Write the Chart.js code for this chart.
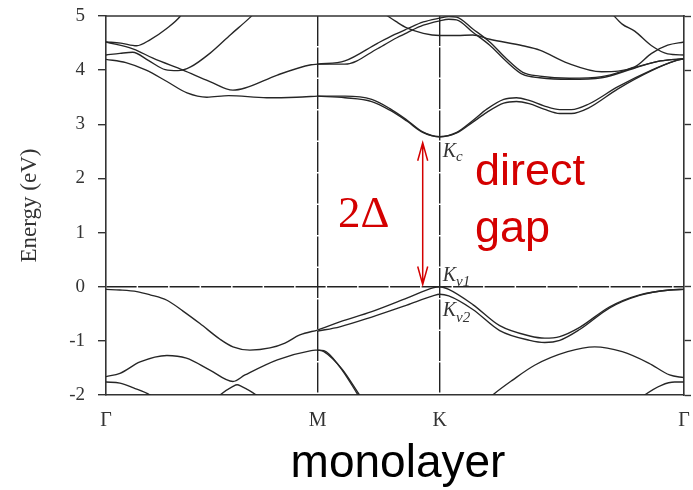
<!DOCTYPE html>
<html>
<head>
<meta charset="utf-8">
<script src="https://cdn.jsdelivr.net/npm/chart.js@4/dist/chart.umd.min.js"></script>
<style>
  html, body { margin: 0; padding: 0; background: #fff; }
  #wrap { width: 693px; height: 490px; }
</style>
</head>
<body>
<div id="wrap"><canvas id="bands" width="693" height="490"></canvas></div>
<script>
// High-symmetry points along the path Γ–M–K–Γ (length of ΓM = 1)
const kTicks = [0, 1, 1.5774, 2.7321];
const kLabels = ['Γ', 'M', 'K', 'Γ'];
const energyTicks = [-2, -1, 0, 1, 2, 3, 4, 5];

// Band energies, [k, E (eV)]
// conduction bands
const cbLowGM  = [[0,4.20],[0.094,4.14],[0.19,4.00],[0.288,3.79],[0.383,3.58],[0.477,3.50],[0.58,3.53],[0.76,3.49],[0.9,3.50],[1,3.52]];
const cbLowMGa = [[1,3.52],[1.13,3.52],[1.256,3.46],[1.342,3.29],[1.422,3.08],[1.497,2.86],[1.577,2.77],[1.658,2.85],[1.734,3.07],[1.80,3.28],[1.88,3.46],[1.94,3.49],[2.00,3.44],[2.07,3.34],[2.145,3.27],[2.20,3.27],[2.28,3.37],[2.418,3.69],[2.579,4.00],[2.69,4.17],[2.732,4.21]];
const cbLowMGb = [[1,3.52],[1.13,3.49],[1.256,3.42],[1.342,3.26],[1.422,3.06],[1.497,2.85],[1.577,2.77],[1.658,2.84],[1.734,3.04],[1.80,3.22],[1.88,3.39],[1.94,3.42],[2.00,3.38],[2.07,3.28],[2.145,3.20],[2.20,3.20],[2.28,3.30],[2.418,3.65],[2.579,3.99],[2.69,4.17],[2.732,4.21]];
const cbMidGM  = [[0,4.52],[0.13,4.39],[0.222,4.22],[0.364,4.00],[0.491,3.79],[0.600,3.63],[0.657,3.67],[0.81,3.91],[0.97,4.10],[1,4.11]];
const cbMidMGa = [[1,4.11],[1.129,4.17],[1.285,4.50],[1.365,4.66],[1.422,4.76],[1.50,4.89],[1.577,4.96],[1.62,4.99],[1.657,4.98],[1.734,4.76],[1.814,4.52],[1.893,4.21],[1.970,3.96],[2.05,3.89],[2.19,3.85],[2.343,3.88],[2.50,4.05],[2.62,4.17],[2.732,4.21]];
const cbMidMGb = [[1,4.11],[1.129,4.11],[1.285,4.40],[1.365,4.58],[1.422,4.69],[1.50,4.83],[1.577,4.91],[1.62,4.94],[1.657,4.93],[1.734,4.70],[1.814,4.46],[1.893,4.16],[1.970,3.92],[2.05,3.86],[2.19,3.83],[2.343,3.86],[2.50,4.04],[2.62,4.17],[2.732,4.21]];
const cbUpKG   = [[1.32,5.03],[1.37,4.90],[1.422,4.78],[1.50,4.68],[1.577,4.64],[1.658,4.64],[1.734,4.65],[1.814,4.57],[1.97,4.45],[2.05,4.37],[2.182,4.13],[2.343,3.97],[2.499,4.06],[2.579,4.31],[2.655,4.46],[2.732,4.52]];
const cbTopKG  = [[2.39,5.05],[2.44,4.85],[2.499,4.72],[2.579,4.45],[2.655,4.30],[2.732,4.28]];
const cbSteepA = [[0,4.28],[0.066,4.31],[0.126,4.33],[0.20,4.18],[0.28,4.01],[0.34,3.99],[0.40,4.06],[0.491,4.31],[0.59,4.66],[0.68,4.97],[0.70,5.05]];
const cbSteepB = [[0,4.52],[0.07,4.50],[0.145,4.45],[0.208,4.56],[0.287,4.77],[0.35,4.99],[0.36,5.05]];

// valence bands
const vbTopGM  = [[0,-0.05],[0.066,-0.06],[0.146,-0.09],[0.208,-0.15],[0.288,-0.25],[0.364,-0.45],[0.444,-0.68],[0.539,-0.97],[0.600,-1.11],[0.680,-1.17],[0.775,-1.13],[0.846,-1.04],[0.916,-0.89],[1,-0.80]];
const vbTopMGa = [[1,-0.80],[1.105,-0.65],[1.256,-0.46],[1.422,-0.21],[1.545,-0.02],[1.577,0],[1.62,-0.05],[1.734,-0.33],[1.861,-0.72],[2.003,-0.91],[2.074,-0.95],[2.145,-0.92],[2.239,-0.75],[2.381,-0.37],[2.522,-0.15],[2.664,-0.06],[2.732,-0.05]];
const vbTopMGb = [[1,-0.82],[1.105,-0.74],[1.256,-0.56],[1.422,-0.34],[1.545,-0.17],[1.577,-0.14],[1.62,-0.17],[1.734,-0.42],[1.861,-0.81],[2.003,-0.99],[2.074,-1.03],[2.145,-0.99],[2.239,-0.79],[2.381,-0.39],[2.522,-0.16],[2.664,-0.06],[2.732,-0.05]];
const vbMidGM  = [[0,-1.66],[0.066,-1.60],[0.161,-1.39],[0.288,-1.27],[0.38,-1.32],[0.491,-1.54],[0.600,-1.75],[0.657,-1.63],[0.81,-1.35],[0.97,-1.18],[1,-1.17]];
const vbMidMKa = [[1,-1.17],[1.03,-1.18],[1.105,-1.48],[1.185,-1.96],[1.21,-2.12]];
const vbMidMKb = [[1,-1.17],[1.03,-1.20],[1.115,-1.52],[1.195,-1.98],[1.22,-2.12]];
const vbLowGL  = [[0,-1.76],[0.066,-1.78],[0.13,-1.87],[0.208,-2.0],[0.26,-2.15]];
const vbHump   = [[0.50,-2.15],[0.539,-2.0],[0.60,-1.84],[0.62,-1.81],[0.64,-1.84],[0.71,-2.0],[0.75,-2.15]];
const vbArchKG = [[1.80,-2.10],[1.828,-2.0],[1.92,-1.73],[2.026,-1.45],[2.182,-1.20],[2.31,-1.11],[2.44,-1.20],[2.565,-1.41],[2.664,-1.63],[2.732,-1.68]];
const vbLowGR  = [[2.50,-2.15],[2.546,-2.0],[2.625,-1.82],[2.688,-1.76],[2.732,-1.76]];

// band edges at K and the gap arrow between them
const edgeKc = 2.77, edgeKv1 = 0, edgeKv2 = -0.14;
const gapArrow = { k: 1.497, top: 2.66, bottom: 0.04 };

const allBands = [
  cbLowGM, cbLowMGa, cbLowMGb, cbMidGM, cbMidMGa, cbMidMGb, cbUpKG, cbTopKG, cbSteepA, cbSteepB,
  vbTopGM, vbTopMGa, vbTopMGb, vbMidGM, vbMidMKa, vbMidMKb, vbLowGL, vbHump, vbArchKG, vbLowGR
];

const ink = '#333';
const red = '#d40000';
const serif = '"Liberation Serif", "Times New Roman", serif';
const sans = '"Liberation Sans", Arial, sans-serif';

// fixed axis box sizes, no extra label padding around the plot
const fixSize = (w, h) => s => {
  if (w !== null) s.width = w;
  if (h !== null) s.height = h;
  s.paddingTop = 0; s.paddingBottom = 0; s.paddingLeft = 0; s.paddingRight = 0;
};

// top edge of the frame
const frameTop = {
  id: 'frameTop',
  afterDraw(chart) {
    const { ctx, chartArea: a } = chart;
    ctx.save();
    ctx.strokeStyle = ink;
    ctx.lineWidth = 1.6;
    ctx.beginPath();
    ctx.moveTo(a.left - 0.8, a.top);
    ctx.lineTo(a.right + 0.8, a.top);
    ctx.stroke();
    ctx.restore();
  }
};

// gap arrow, K-point labels and captions
const notes = {
  id: 'notes',
  afterDraw(chart) {
    const { ctx } = chart;
    const xs = chart.scales.x, ys = chart.scales.y;
    const kx = xs.getPixelForValue(kTicks[2]);
    ctx.save();

    // double arrow across the direct gap
    const ax = xs.getPixelForValue(gapArrow.k);
    const yTop = ys.getPixelForValue(gapArrow.top);
    const yBot = ys.getPixelForValue(gapArrow.bottom);
    ctx.strokeStyle = red;
    ctx.lineWidth = 1.5;
    ctx.beginPath();
    ctx.moveTo(ax, yTop); ctx.lineTo(ax, yBot);
    ctx.moveTo(ax - 5, yTop + 18); ctx.lineTo(ax, yTop); ctx.lineTo(ax + 5, yTop + 18);
    ctx.moveTo(ax - 5, yBot - 18); ctx.lineTo(ax, yBot); ctx.lineTo(ax + 5, yBot - 18);
    ctx.stroke();

    ctx.fillStyle = red;
    ctx.textAlign = 'left';
    ctx.textBaseline = 'alphabetic';
    ctx.font = '45px ' + serif;
    ctx.fillText('2Δ', 338, 227);
    ctx.font = '45px ' + sans;
    ctx.fillText('direct', 475, 185);
    ctx.fillText('gap', 475, 242);

    // K-point labels
    const kLabel = (sub, base, subDrop) => {
      ctx.fillStyle = ink;
      ctx.font = 'italic 20px ' + serif;
      ctx.fillText('K', kx + 3, base);
      const w = ctx.measureText('K').width;
      ctx.font = 'italic 15px ' + serif;
      ctx.fillText(sub, kx + 3 + w, base + subDrop);
    };
    kLabel('c', ys.getPixelForValue(edgeKc) + 20, 4);
    kLabel('v1', ys.getPixelForValue(edgeKv1) - 6, 5);
    kLabel('v2', ys.getPixelForValue(edgeKv2) + 22, 6);

    // caption
    ctx.fillStyle = '#000';
    ctx.textAlign = 'center';
    ctx.font = '46px ' + sans;
    ctx.fillText('monolayer', 398, 477);
    ctx.restore();
  }
};

new Chart(document.getElementById('bands'), {
  type: 'line',
  data: {
    datasets: allBands.map(b => ({
      data: b.map(([k, e]) => ({ x: k, y: e })),
      borderColor: '#262626',
      borderWidth: 1.35,
      pointRadius: 0,
      fill: false,
      cubicInterpolationMode: 'monotone',
      clip: 0
    }))
  },
  options: {
    responsive: false,
    devicePixelRatio: 1,
    animation: false,
    events: [],
    layout: { padding: { top: 16, right: 1, bottom: 0, left: 0 }, autoPadding: false },
    plugins: { legend: { display: false }, tooltip: { enabled: false } },
    scales: {
      x: {
        type: 'linear',
        min: kTicks[0],
        max: kTicks[3],
        afterBuildTicks: s => { s.ticks = kTicks.map(v => ({ value: v })); },
        afterFit: fixSize(null, 95),
        ticks: {
          callback: (v, i) => kLabels[i],
          font: { family: serif, size: 20 },
          color: ink,
          padding: 14,
          autoSkip: false,
          maxRotation: 0
        },
        grid: {
          color: c => (c.index === 1 || c.index === 2) ? '#222' : 'rgba(0,0,0,0)',
          lineWidth: 1.4,
          drawTicks: false
        },
        border: { color: ink, width: 1.6, dash: [30, 1.5] }
      },
      y: {
        type: 'linear',
        position: 'left',
        min: -2,
        max: 5,
        afterBuildTicks: s => { s.ticks = energyTicks.map(v => ({ value: v })); },
        afterFit: fixSize(106, null),
        ticks: { font: { family: serif, size: 19 }, color: ink, padding: 13 },
        grid: {
          color: c => (c.tick && c.tick.value === 0) ? '#222' : 'rgba(0,0,0,0)',
          lineWidth: 1.4,
          tickColor: ink,
          tickLength: 8,
          tickWidth: 1.4
        },
        border: { color: ink, width: 1.6, dash: [30, 1.5] },
        title: {
          display: true,
          text: 'Energy (eV)',
          font: { family: serif, size: 23 },
          color: ink,
          padding: { top: 16, bottom: 0 }
        }
      },
      y2: {
        type: 'linear',
        position: 'right',
        min: -2,
        max: 5,
        afterBuildTicks: s => { s.ticks = energyTicks.map(v => ({ value: v })); },
        afterFit: fixSize(8, null),
        ticks: { display: false },
        grid: { drawOnChartArea: false, tickColor: ink, tickLength: 7, tickWidth: 1.4 },
        border: { color: ink, width: 1.6 }
      }
    }
  },
  plugins: [frameTop, notes]
});
</script>
</body>
</html>
